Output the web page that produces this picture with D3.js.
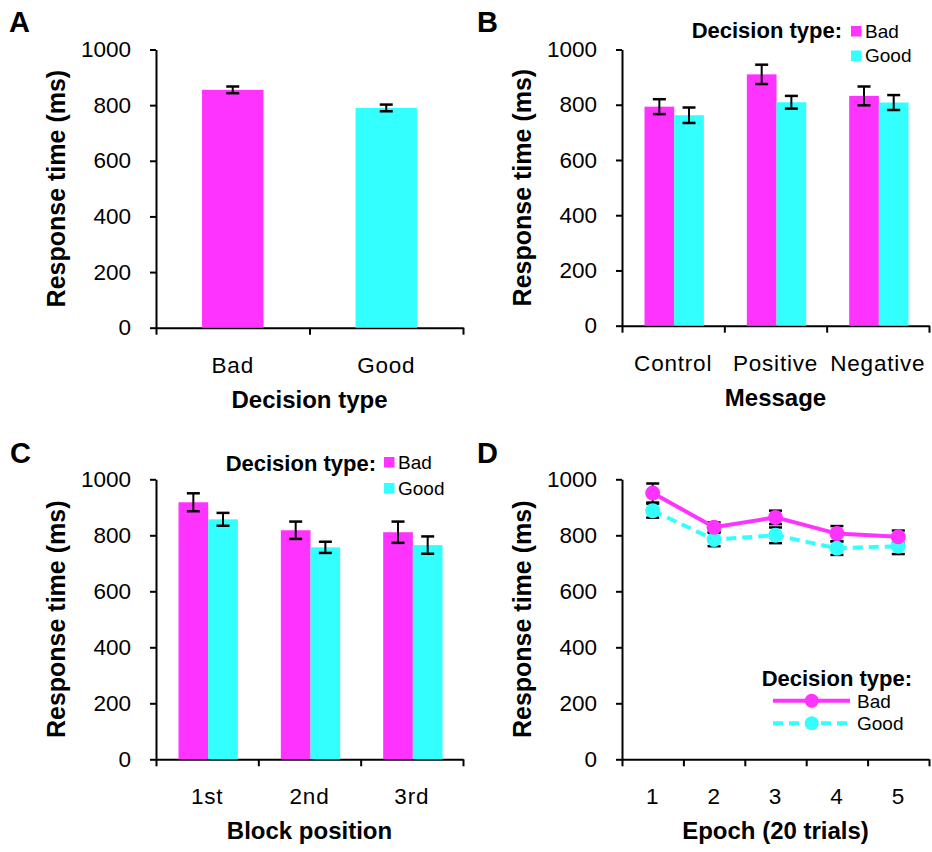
<!DOCTYPE html>
<html lang="en">
<head>
<meta charset="utf-8">
<title>Response time</title>
<script src="https://cdn.jsdelivr.net/npm/d3@7"></script>
<style>
  body { margin: 0; background: #fff; }
  svg text { font-family: "Liberation Sans", Arial, sans-serif; fill: #000; }
</style>
</head>
<body>
<script>
// ---- data ----
var aCats = ["Bad", "Good"];
var aMeans = [855, 790];
var aErr = [12, 12];

var bCats = ["Control", "Positive", "Negative"];
var bBad = [793, 910, 832];
var bBadErr = [27, 35, 34];
var bGood = [762, 809, 808];
var bGoodErr = [28, 23, 27];

var cCats = ["1st", "2nd", "3rd"];
var cBad = [918, 818, 811];
var cBadErr = [32, 31, 38];
var cGood = [857, 757, 765];
var cGoodErr = [23, 20, 31];

var dEpochs = ["1", "2", "3", "4", "5"];
var dBad = [951, 829, 864, 806, 795];
var dBadErr = [34, 17, 24, 27, 22];
var dGood = [888, 785, 800, 754, 761];
var dGoodErr = [25, 24, 28, 24, 28];

var yTicks = [0, 200, 400, 600, 800, 1000];
var magenta = "#ff33ff";
var cyan = "#33ffff";

var width = 932, height = 852;
var svg = d3.select("body").append("svg")
    .attr("width", width)
    .attr("height", height);

// common frame: y axis, x axis with boundary ticks, titles, letter
function frame(p) {
    var g = svg.append("g");
    var y = d3.scaleLinear().domain([0, 1000]).range([p.zero, p.top]);

    var ya = g.append("g")
        .attr("transform", "translate(" + p.left + ",0)")
        .call(d3.axisLeft(y).tickValues(yTicks).tickFormat(d3.format("d"))
            .tickSize(6).tickSizeOuter(0).tickPadding(19));
    ya.selectAll("text").attr("font-size", 22.5);
    ya.selectAll("line,path").attr("stroke", "#000").attr("stroke-width", 2);

    var x0 = d3.scaleBand().domain(p.cats).range([p.left, p.right]);
    var bounds = d3.range(p.cats.length + 1);
    var xb = d3.scaleLinear().domain([0, p.cats.length]).range([p.left, p.right]);
    var xa = g.append("g")
        .attr("transform", "translate(0," + p.zero + ")")
        .call(d3.axisBottom(xb).tickValues(bounds).tickSize(7).tickSizeOuter(0).tickFormat(""));
    xa.selectAll("line,path").attr("stroke", "#000").attr("stroke-width", 2);

    g.append("g").selectAll("text")
        .data(p.cats)
        .enter().append("text")
        .attr("x", function (d) { return x0(d) + x0.bandwidth() / 2; })
        .attr("y", p.zero + 45)
        .attr("text-anchor", "middle")
        .attr("font-size", 22.5)
        .attr("letter-spacing", 0.8)
        .text(function (d) { return d; });

    g.append("text")
        .attr("x", (p.left + p.right) / 2)
        .attr("y", p.zero + 80)
        .attr("text-anchor", "middle")
        .attr("font-size", 24)
        .attr("font-weight", "bold")
        .text(p.xTitle);

    g.append("text")
        .attr("transform", "translate(" + (p.left - 91) + "," + (p.top + p.zero) / 2 + ") rotate(-90)")
        .attr("text-anchor", "middle")
        .attr("font-size", 25)
        .attr("font-weight", "bold")
        .text("Response time (ms)");

    g.append("text")
        .attr("x", p.letterX)
        .attr("y", p.letterY)
        .attr("font-size", 29)
        .attr("font-weight", "bold")
        .text(p.letter);

    return { g: g, y: y, x0: x0 };
}

function errorBar(g, cx, y, v, e) {
    var cap = 6.5;
    g.append("line")
        .attr("x1", cx).attr("x2", cx)
        .attr("y1", y(v - e)).attr("y2", y(v + e))
        .attr("stroke", "#000").attr("stroke-width", 2);
    [v - e, v + e].forEach(function (t) {
        g.append("line")
            .attr("x1", cx - cap).attr("x2", cx + cap)
            .attr("y1", y(t)).attr("y2", y(t))
            .attr("stroke", "#000").attr("stroke-width", 2.5);
    });
}

function barPanel(p) {
    var f = frame(p);
    var names = p.series.map(function (s) { return s.name; });
    var x1 = d3.scaleBand().domain(names)
        .range([f.x0.bandwidth() * p.inner[0], f.x0.bandwidth() * p.inner[1]]);

    p.series.forEach(function (s) {
        f.g.append("g").selectAll("rect")
            .data(s.values)
            .enter().append("rect")
            .attr("x", function (d, i) { return f.x0(p.cats[i]) + x1(s.name); })
            .attr("y", function (d) { return f.y(d); })
            .attr("width", x1.bandwidth())
            .attr("height", function (d) { return p.zero - f.y(d); })
            .attr("fill", function (d, i) { return s.colors ? s.colors[i] : s.color; });
    });
    p.series.forEach(function (s) {
        s.values.forEach(function (v, i) {
            errorBar(f.g, f.x0(p.cats[i]) + x1(s.name) + x1.bandwidth() / 2, f.y, v, s.errs[i]);
        });
    });

    if (p.legend) {
        var L = p.legend;
        f.g.append("text")
            .attr("x", L.titleRight)
            .attr("y", L.titleY)
            .attr("text-anchor", "end")
            .attr("font-size", 22)
            .attr("font-weight", "bold")
            .text("Decision type:");
        p.series.forEach(function (s, i) {
            f.g.append("rect")
                .attr("x", L.boxX)
                .attr("y", L.boxY + i * L.step)
                .attr("width", 10.5).attr("height", 10.5)
                .attr("fill", s.color);
            f.g.append("text")
                .attr("x", L.boxX + 14)
                .attr("y", L.boxY + 11.5 + i * L.step)
                .attr("font-size", 19)
                .text(s.name);
        });
    }
}

barPanel({
    left: 156, right: 463, top: 49.5, zero: 327.7,
    cats: aCats, xTitle: "Decision type", letter: "A", letterX: 9, letterY: 32,
    inner: [0.3, 0.7],
    series: [{ name: "mean", values: aMeans, errs: aErr, colors: [magenta, cyan] }]
});

barPanel({
    left: 622, right: 929, top: 49.5, zero: 325.7,
    cats: bCats, xTitle: "Message", letter: "B", letterX: 477, letterY: 32,
    inner: [0.22, 0.8],
    series: [
        { name: "Bad", values: bBad, errs: bBadErr, color: magenta },
        { name: "Good", values: bGood, errs: bGoodErr, color: cyan }
    ],
    legend: { titleRight: 842, titleY: 37.5, boxX: 851, boxY: 26, step: 24.5 }
});

barPanel({
    left: 156, right: 463, top: 479.3, zero: 759.3,
    cats: cCats, xTitle: "Block position", letter: "C", letterX: 10, letterY: 463,
    inner: [0.22, 0.8],
    series: [
        { name: "Bad", values: cBad, errs: cBadErr, color: magenta },
        { name: "Good", values: cGood, errs: cGoodErr, color: cyan }
    ],
    legend: { titleRight: 376, titleY: 470.5, boxX: 384, boxY: 457, step: 26 }
});

// ---- panel D: lines with markers ----
(function () {
    var p = {
        left: 622, right: 929, top: 479.3, zero: 759.3,
        cats: dEpochs, xTitle: "Epoch (20 trials)", letter: "D", letterX: 477, letterY: 463
    };
    var f = frame(p);
    var cx = function (i) { return f.x0(dEpochs[i]) + f.x0.bandwidth() / 2; };
    var series = [
        { name: "Bad", values: dBad, errs: dBadErr, color: magenta, dash: null },
        { name: "Good", values: dGood, errs: dGoodErr, color: cyan, dash: "10,6" }
    ];
    series.forEach(function (s) {
        s.values.forEach(function (v, i) { errorBar(f.g, cx(i), f.y, v, s.errs[i]); });
    });
    var line = d3.line()
        .x(function (d, i) { return cx(i); })
        .y(function (d) { return f.y(d); });
    series.slice().reverse().forEach(function (s) {
        f.g.append("path")
            .attr("d", line(s.values))
            .attr("fill", "none")
            .attr("stroke", s.color)
            .attr("stroke-width", 4)
            .attr("stroke-dasharray", s.dash);
        f.g.selectAll(null)
            .data(s.values)
            .enter().append("circle")
            .attr("cx", function (d, i) { return cx(i); })
            .attr("cy", function (d) { return f.y(d); })
            .attr("r", 7.5)
            .attr("fill", s.color);
    });

    // legend
    f.g.append("text")
        .attr("x", 912).attr("y", 686)
        .attr("text-anchor", "end")
        .attr("font-size", 22)
        .attr("font-weight", "bold")
        .text("Decision type:");
    series.forEach(function (s, i) {
        var ly = 700.7 + i * 22.6;
        f.g.append("line")
            .attr("x1", 773).attr("x2", 850)
            .attr("y1", ly).attr("y2", ly)
            .attr("stroke", s.color).attr("stroke-width", 4)
            .attr("stroke-dasharray", s.dash);
        f.g.append("circle")
            .attr("cx", 811.7).attr("cy", ly).attr("r", 7)
            .attr("fill", s.color);
        f.g.append("text")
            .attr("x", 857).attr("y", ly + 7)
            .attr("font-size", 19)
            .text(s.name);
    });
})();
</script>
</body>
</html>
